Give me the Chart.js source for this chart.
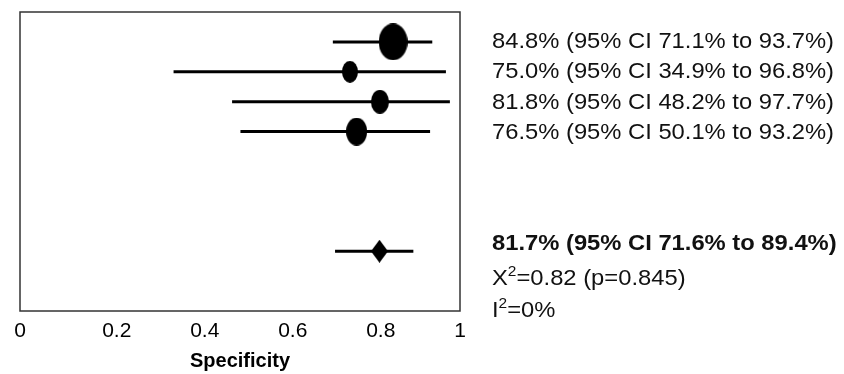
<!DOCTYPE html>
<html>
<head>
<meta charset="utf-8">
<script src="https://cdn.jsdelivr.net/npm/chart.js@4.4.1/dist/chart.umd.min.js"></script>
<style>
  html, body { margin:0; padding:0; background:#fff; }
  #wrap { position:relative; width:844px; height:374px; }
  canvas { position:absolute; left:0; top:0; }
  .lbl { position:absolute; left:492px; height:24px; line-height:24px; white-space:nowrap;
         font-family:"Liberation Sans", Arial, sans-serif; font-size:21.5px; color:#111;
         transform:scaleX(1.105); transform-origin:0 50%; }
  .lbl.b { font-weight:bold; }
  .lbl sup { font-size:14px; line-height:0; position:relative; top:-1px; vertical-align:super; }
</style>
</head>
<body>
<div id="wrap">
  <canvas id="fp" width="844" height="374"></canvas>
</div>
<script>
// study estimates (specificity) and 95% CI
const studyEst = [0.848, 0.750, 0.818, 0.765];
const studyLo  = [0.711, 0.349, 0.482, 0.501];
const studyHi  = [0.937, 0.968, 0.977, 0.932];
const studyRow = [1, 2, 3, 4];
const studyText = [
  '84.8% (95% CI 71.1% to 93.7%)',
  '75.0% (95% CI 34.9% to 96.8%)',
  '81.8% (95% CI 48.2% to 97.7%)',
  '76.5% (95% CI 50.1% to 93.2%)'
];
// pooled estimate
const pooledEst = 0.817, pooledLo = 0.716, pooledHi = 0.894, pooledRow = 8;
const pooledText = '81.7% (95% CI 71.6% to 89.4%)';
const chiText = ['X', '2', '=0.82 (p=0.845)'];
const iText = ['I', '2', '=0%'];
const xTicks = [0, 0.2, 0.4, 0.6, 0.8, 1];

// marker sizes (w, h) roughly by study weight
const MARKER = [[29, 37], [16, 22], [18, 24], [21, 28]];

function ellipse(w, h){
  const c = document.createElement('canvas'); c.width = w; c.height = h;
  const g = c.getContext('2d'); g.fillStyle = '#000';
  g.beginPath(); g.ellipse(w/2, h/2, w/2, h/2, 0, 0, Math.PI*2); g.fill();
  return c;
}
function diamond(w, h){
  const c = document.createElement('canvas'); c.width = w; c.height = h;
  const g = c.getContext('2d'); g.fillStyle = '#000';
  g.beginPath(); g.moveTo(w/2, 0); g.lineTo(w, h/2); g.lineTo(w/2, h); g.lineTo(0, h/2); g.closePath(); g.fill();
  return c;
}

const datasets = [];
studyEst.forEach((e, i) => {
  datasets.push({ type:'line', data:[{x:studyLo[i], y:studyRow[i]}, {x:studyHi[i], y:studyRow[i]}],
    borderColor:'#000', borderWidth:3, pointRadius:0, order:2 });
});
datasets.push({ type:'line', data:[{x:pooledLo, y:pooledRow}, {x:pooledHi, y:pooledRow}],
  borderColor:'#000', borderWidth:3, pointRadius:0, order:2 });
datasets.push({ type:'scatter', data: studyEst.map((e, i) => ({x:e, y:studyRow[i]})),
  pointStyle: MARKER.map(([w, h]) => ellipse(w, h)), order:1 });
datasets.push({ type:'scatter', data:[{x:pooledEst, y:pooledRow}], pointStyle: diamond(17, 23), order:1 });

const boxPlugin = {
  id:'box',
  afterDraw(chart){
    const a = chart.chartArea, g = chart.ctx;
    g.save(); g.strokeStyle = '#333'; g.lineWidth = 1.5;
    g.strokeRect(a.left, a.top, a.right - a.left, a.bottom - a.top);
    g.restore();
  }
};

new Chart(document.getElementById('fp'), {
  data:{ datasets },
  options:{
    responsive:false, animation:false, events:[],
    layout:{ padding:{ left:20, right:384, top:12, bottom:0 } },
    plugins:{ legend:{display:false}, tooltip:{enabled:false} },
    scales:{
      x:{ type:'linear', min:0, max:1,
        afterBuildTicks: s => { s.ticks = xTicks.map(v => ({value:v})); },
        afterFit: s => { s.height = 63; },
        grid:{ display:false, drawTicks:false }, border:{ display:false },
        ticks:{ padding:8, color:'#000', maxRotation:0, autoSkip:false,
          font:{ family:'"Liberation Sans", Arial, sans-serif', size:21 },
          // inner labels sit a little right of their tick in the original
          callback: v => (v > 0 && v < 1 ? '   ' : '') + String(v) },
        title:{ display:true, text:'Specificity', color:'#000', padding:{top:0, bottom:1},
          font:{ family:'"Liberation Sans", Arial, sans-serif', size:20, weight:'bold' } }
      },
      y:{ type:'linear', min:0, max:10, reverse:true, display:false }
    }
  },
  plugins:[boxPlugin]
});

// right-hand text labels
const wrap = document.getElementById('wrap');
function addLabel(html, cy, bold){
  const d = document.createElement('div');
  d.className = 'lbl' + (bold ? ' b' : '');
  d.innerHTML = html;
  d.style.top = (cy - 12) + 'px';
  wrap.appendChild(d);
}
const rowCenters = [41, 71, 102, 132];
studyText.forEach((t, i) => addLabel(t, rowCenters[i]));
addLabel(pooledText, 243, true);
addLabel(chiText[0] + '<sup>' + chiText[1] + '</sup>' + chiText[2], 278);
addLabel(iText[0] + '<sup>' + iText[1] + '</sup>' + iText[2], 310);
</script>
</body>
</html>
